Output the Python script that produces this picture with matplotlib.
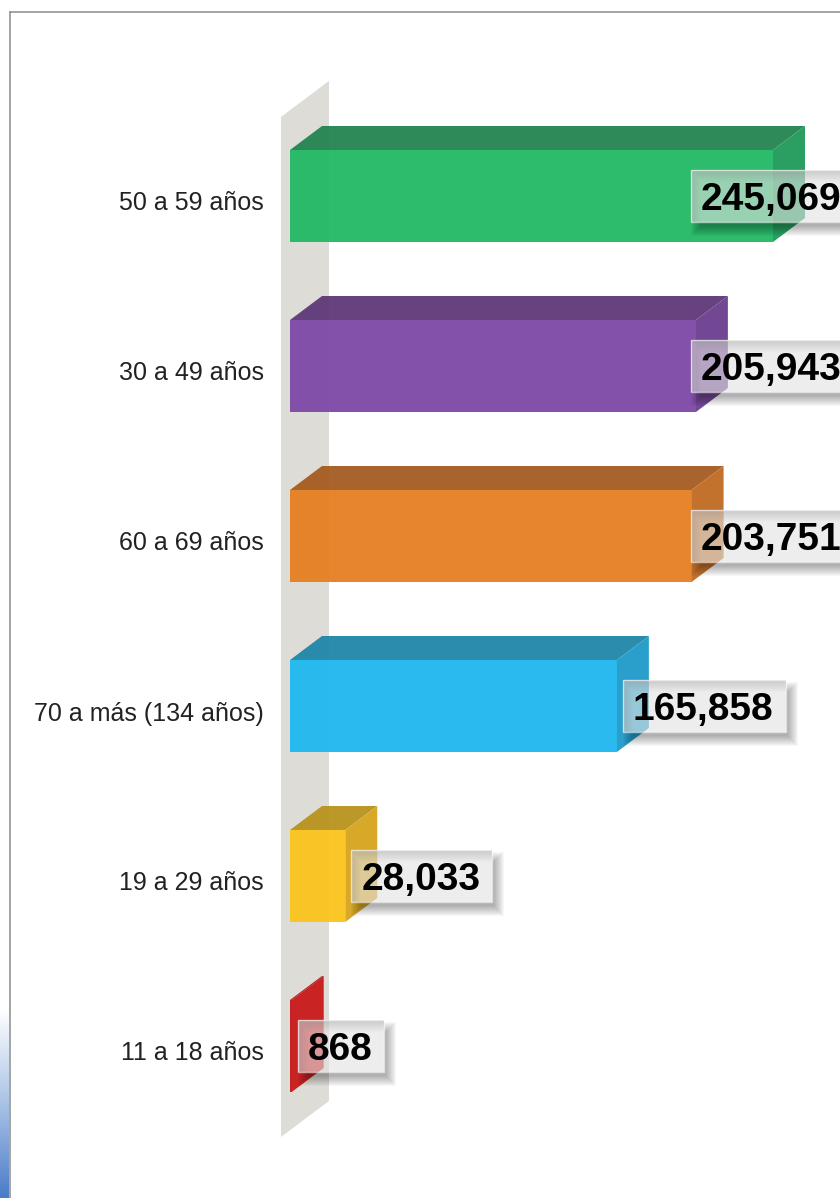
import numpy as np
import matplotlib
matplotlib.use('Agg')
import matplotlib.pyplot as plt
from matplotlib.patches import Polygon, Rectangle, PathPatch
from matplotlib.path import Path
from matplotlib.lines import Line2D
from matplotlib.colors import LinearSegmentedColormap
from matplotlib.transforms import IdentityTransform, ScaledTranslation

plt.rcParams['font.family'] = ['Liberation Sans', 'DejaVu Sans']

categories = ['50 a 59 años', '30 a 49 años', '60 a 69 años',
              '70 a más (134 años)', '19 a 29 años', '11 a 18 años']
values = [245069, 205943, 203751, 165858, 28033, 868]
front_colors = ['#21b864', '#7d48a6', '#e67e22', '#1eb7ef', '#fbc31c', '#c8191a']
top_colors = ['#22844f', '#5e3878', '#a55b20', '#1f86aa', '#b8931c', '#a81518']
side_colors = ['#1f9a58', '#6a3e8e', '#c06a22', '#1e9aca', '#d6a41d', '#c8191a']

W, H = 840, 1198
fig = plt.figure(figsize=(W / 100, H / 100), dpi=100)
fig.patch.set_facecolor('white')

# plot area, value 0 sits at x=290px
ax_l, ax_w = 290, 550
ax = fig.add_axes([ax_l / W, 0, ax_w / W, 1])
xmax = max(values) * ax_w / 483
row = 170      # px between bar centres
first = 196    # px from top to first bar centre
n = len(values)
ax.set_xlim(0, xmax)
ax.set_ylim((H - first) / row, -first / row)
ax.patch.set_alpha(0)
for sp in ax.spines.values():
    sp.set_visible(False)
ax.set_xticks([])
ax.set_yticks(range(n), categories)
ax.tick_params(axis='y', length=0, pad=19, labelsize=18, labelcolor='#222222')
down = ScaledTranslation(0, -5 / 100, fig.dpi_scale_trans)
for lbl in ax.get_yticklabels():
    lbl.set_transform(lbl.get_transform() + down)

sx = xmax / ax_w   # data units per px
sy = 1.0 / row

# grey wall behind the bars
y_top, y_bot = -0.465, n - 1 + 0.535
wall = Polygon([(-9 * sx, y_top), (39 * sx, y_top - 36 * sy),
                (39 * sx, y_bot - 36 * sy), (-9 * sx, y_bot)],
               closed=True, facecolor='#dddcd7', edgecolor='none', zorder=1,
               clip_on=False)
ax.add_patch(wall)

# 3d bars
h = 92 * sy
ddx, ddy = 32 * sx, 24 * sy
for i, v in enumerate(values):
    y0, y1 = i - h / 2, i + h / 2
    top = Polygon([(0, y0), (v, y0), (v + ddx, y0 - ddy), (ddx, y0 - ddy)],
                  facecolor=top_colors[i], edgecolor='none', alpha=0.95, zorder=2)
    side = Polygon([(v, y0), (v + ddx, y0 - ddy), (v + ddx, y1 - ddy), (v, y1)],
                   facecolor=side_colors[i], edgecolor='none', alpha=0.95, zorder=2)
    front = Rectangle((0, y0), v, h, facecolor=front_colors[i],
                      edgecolor='none', alpha=0.95, zorder=2)
    ax.add_patch(top)
    ax.add_patch(side)
    ax.add_patch(front)

# value labels
texts = []
for i, v in enumerate(values):
    left_px = min(v / sx + 6, 401)
    t = ax.annotate(f'{v:,}', xy=(left_px * sx, i), xytext=(10 * 0.72, -14 * 0.72),
                    textcoords='offset points', ha='left', va='baseline',
                    fontsize=28, fontweight='bold', color='black', zorder=6,
                    annotation_clip=False)
    texts.append((t, left_px, i))

fig.canvas.draw()
renderer = fig.canvas.get_renderer()


def ring(x0, y0, x1, y1, ox, oy, spread):
    outer = [(x0 + ox - spread, y0 + oy - spread), (x1 + ox + spread, y0 + oy - spread),
             (x1 + ox + spread, y1 + oy + spread), (x0 + ox - spread, y1 + oy + spread),
             (x0 + ox - spread, y0 + oy - spread)]
    inner = [(x0, y0), (x0, y1), (x1, y1), (x1, y0), (x0, y0)]
    verts = outer + inner
    codes = ([Path.MOVETO] + [Path.LINETO] * 3 + [Path.CLOSEPOLY]) * 2
    return Path(verts, codes)


for t, left_px, i in texts:
    ext = t.get_window_extent(renderer)
    cy = ax.transData.transform((0, i))[1]
    bx0 = ax.transData.transform((left_px * sx, i))[0]
    bx1 = ext.x1 + 12
    by0, by1 = cy - 26, cy + 26
    for k in range(11):
        sh = PathPatch(ring(bx0, by0, bx1, by1, 6, -8, k - 4), facecolor='#000000',
                       edgecolor='none', alpha=0.03, transform=IdentityTransform(), zorder=3)
        ax.add_artist(sh)
    box = Rectangle((bx0, by0), bx1 - bx0, by1 - by0, facecolor='#e2e2e2', alpha=0.6,
                    edgecolor='none', transform=IdentityTransform(), zorder=4)
    ax.add_artist(box)
    edge = Rectangle((bx0, by0), bx1 - bx0, by1 - by0, facecolor='none',
                     edgecolor=(1, 1, 1, 0.6), lw=1, transform=IdentityTransform(), zorder=5)
    ax.add_artist(edge)

# frame lines and the blue strip at the left edge
fig.add_artist(Line2D([9.5 / W, 9.5 / W], [0, (H - 12) / H], color='#8c8c8c', lw=1.1))
fig.add_artist(Line2D([9.5 / W, 1], [(H - 12) / H, (H - 12) / H], color='#8c8c8c', lw=1.1))
gax = fig.add_axes([0, 0, 8.5 / W, 190 / H])
grad = np.linspace(0, 1, 200).reshape(-1, 1)
cmap = LinearSegmentedColormap.from_list('strip', ['#ffffff', '#a9c3e6', '#4a7cc7'])
gax.imshow(grad, aspect='auto', cmap=cmap)
gax.axis('off')

fig.savefig('out.png', dpi=100, facecolor='white')
